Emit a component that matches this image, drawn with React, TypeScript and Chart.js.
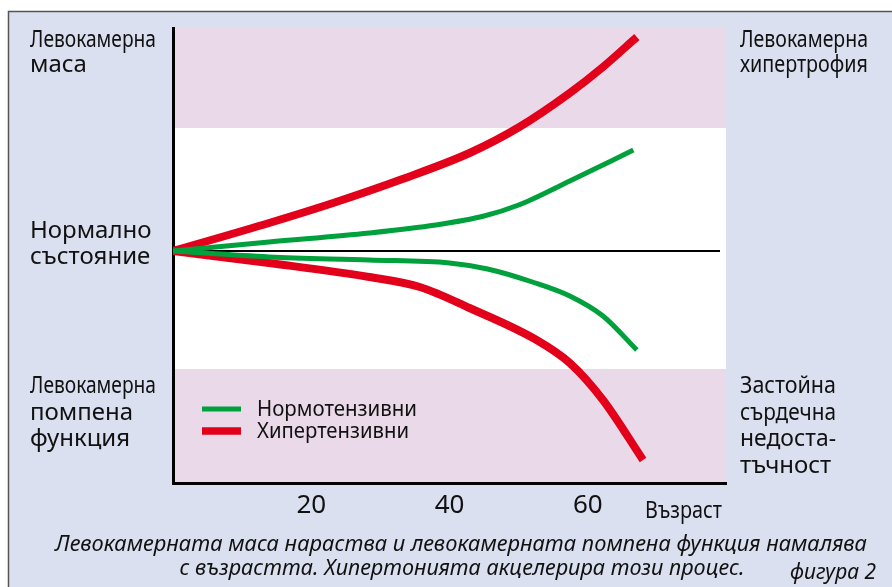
import React, { useEffect, useRef } from 'react';
import { Chart, registerables } from 'chart.js';

Chart.register(...registerables);

// ---- data (age on x, relative change from normal state on y) ----
const normoUpperAge = [0, 13.9, 28.4, 38.0, 45.0, 50.0, 57.4, 66.6];
const normoUpperVal = [0, 0.9, 1.8, 2.6, 3.5, 4.6, 7.0, 10.1];
const normoLowerAge = [0, 13.9, 28.4, 40.0, 45.5, 52.0, 57.4, 62.2, 67.1];
const normoLowerVal = [0, -0.6, -0.9, -1.2, -1.8, -3.1, -4.5, -6.5, -9.9];
const hyperUpperAge = [0, 13.9, 23.6, 33.2, 42.9, 50.1, 57.4, 62.2, 67.1];
const hyperUpperVal = [0, 2.8, 4.9, 7.2, 9.8, 12.4, 15.8, 18.4, 21.4];
const hyperLowerAge = [0, 13.9, 28.4, 35.7, 42.9, 52.6, 57.4, 62.2, 68];
const hyperLowerVal = [0, -1.2, -2.6, -3.6, -5.7, -8.9, -11.2, -14.9, -20.9];

const AGE_TICKS = [20, 40, 60];
const AGE_MIN = 0;
const AGE_MAX = 80;
const VAL_MIN = -23.2;
const VAL_MAX = 22.3;
const UPPER_BAND = [12.3, 22.3];
const LOWER_BAND = [-23.2, -11.8];

const LEGEND_LABELS = ['Нормотензивни', 'Хипертензивни'];
const X_TITLE = 'Възраст';
const LEFT_TOP = ['Левокамерна', 'маса'];
const LEFT_MID = ['Нормално', 'състояние'];
const LEFT_BOTTOM = ['Левокамерна', 'помпена', 'функция'];
const RIGHT_TOP = ['Левокамерна', 'хипертрофия'];
const RIGHT_BOTTOM = ['Застойна', 'сърдечна', 'недоста-', 'тъчност'];
const CAPTION = [
  'Левокамерната маса нараства и левокамерната помпена функция намалява',
  'с възрастта. Хипертонията акцелерира този процес.',
];
const FIGURE_LABEL = 'фигура 2';

const GREEN = '#00a03c';
const RED = '#e2001a';
const PINK = '#ead9e8';
const PANEL = '#dbe0f1';
const FONT = '"Noto Sans", "Open Sans", sans-serif';

const toPts = (xs: number[], ys: number[]) => xs.map((x, i) => ({ x, y: ys[i] }));

const decorPlugin = {
  id: 'decor',
  beforeDraw(chart: any) {
    const { ctx, chartArea, scales } = chart;
    const W = chart.width;
    const H = chart.height;
    ctx.save();
    ctx.fillStyle = '#ffffff';
    ctx.fillRect(0, 0, W, H);
    ctx.fillStyle = PANEL;
    ctx.fillRect(8, 11, W - 8, H - 11);
    ctx.strokeStyle = '#555555';
    ctx.lineWidth = 1.5;
    ctx.beginPath();
    ctx.moveTo(8.5, H);
    ctx.lineTo(8.5, 11.5);
    ctx.lineTo(W, 11.5);
    ctx.stroke();
    // white plot area and pink bands
    const y = scales.y;
    ctx.fillStyle = '#ffffff';
    ctx.fillRect(chartArea.left, chartArea.top, chartArea.right - chartArea.left, chartArea.bottom - chartArea.top);
    ctx.fillStyle = PINK;
    const b1t = y.getPixelForValue(UPPER_BAND[1]);
    const b1b = y.getPixelForValue(UPPER_BAND[0]);
    ctx.fillRect(chartArea.left, b1t, chartArea.right - chartArea.left, b1b - b1t);
    const b2t = y.getPixelForValue(LOWER_BAND[1]);
    const b2b = y.getPixelForValue(LOWER_BAND[0]);
    ctx.fillRect(chartArea.left, b2t, chartArea.right - chartArea.left, b2b - b2t);

    // side labels
    ctx.fillStyle = '#111111';
    ctx.textBaseline = 'alphabetic';
    ctx.textAlign = 'left';
    ctx.font = `24px ${FONT}`;
    const lines = (arr: string[], x: number, y0: number, lh: number, mw: number) => {
      arr.forEach((s, i) => ctx.fillText(s, x, y0 + i * lh, mw));
    };
    lines(LEFT_TOP, 30, 47, 25, 126);
    lines(LEFT_MID, 30, 238, 26, 126);
    lines(LEFT_BOTTOM, 30, 393, 26.5, 126);
    lines(RIGHT_TOP, 740, 47, 25, 128);
    lines(RIGHT_BOTTOM, 740, 393, 26.7, 96);

    // x title
    ctx.font = `23px ${FONT}`;
    ctx.fillText(X_TITLE, 645, 518, 77);

    // caption
    ctx.font = `italic 22px ${FONT}`;
    ctx.textAlign = 'center';
    ctx.fillText(CAPTION[0], 461, 551, 812);
    ctx.fillText(CAPTION[1], 462, 575, 565);
    ctx.textAlign = 'left';
    ctx.fillText(FIGURE_LABEL, 790, 579, 86);
    ctx.restore();
  },
  beforeDatasetsDraw(chart: any) {
    const { ctx, chartArea, scales } = chart;
    const y0 = scales.y.getPixelForValue(0);
    ctx.save();
    ctx.strokeStyle = '#000000';
    ctx.lineWidth = 2;
    ctx.beginPath();
    ctx.moveTo(chartArea.left, y0);
    ctx.lineTo(chartArea.right - 6, y0);
    ctx.stroke();

    // legend
    const items = [
      { label: LEGEND_LABELS[0], color: GREEN, w: 5, y: 409 },
      { label: LEGEND_LABELS[1], color: RED, w: 7.5, y: 431 },
    ];
    ctx.font = `21px ${FONT}`;
    ctx.textBaseline = 'alphabetic';
    items.forEach((it, i) => {
      ctx.strokeStyle = it.color;
      ctx.lineWidth = it.w;
      ctx.beginPath();
      ctx.moveTo(202, it.y);
      ctx.lineTo(241, it.y);
      ctx.stroke();
      ctx.fillStyle = '#111111';
      ctx.fillText(it.label, 257, it.y + 7, i === 0 ? 160 : 152);
    });
    ctx.restore();
  },
};

export default function App() {
  const ref = useRef<HTMLCanvasElement>(null);
  useEffect(() => {
    if (!ref.current) return;
    const common = { fill: false, pointRadius: 0, cubicInterpolationMode: 'monotone' as const, borderCapStyle: 'butt' as const };
    const chart = new Chart(ref.current, {
      type: 'line',
      data: {
        datasets: [
          { ...common, label: LEGEND_LABELS[0], data: toPts(normoUpperAge, normoUpperVal), borderColor: GREEN, borderWidth: 5 },
          { ...common, label: LEGEND_LABELS[0], data: toPts(normoLowerAge, normoLowerVal), borderColor: GREEN, borderWidth: 5 },
          { ...common, label: LEGEND_LABELS[1], data: toPts(hyperUpperAge, hyperUpperVal), borderColor: RED, borderWidth: 8 },
          { ...common, label: LEGEND_LABELS[1], data: toPts(hyperLowerAge, hyperLowerVal), borderColor: RED, borderWidth: 8 },
        ],
      },
      options: {
        animation: false,
        responsive: false,
        devicePixelRatio: 1,
        layout: { padding: { left: 173, top: 28, right: 166, bottom: 0 } },
        plugins: { legend: { display: false }, tooltip: { enabled: false } },
        scales: {
          x: {
            type: 'linear',
            min: AGE_MIN,
            max: AGE_MAX,
            afterFit: (s: any) => { s.height = 104; },
            afterBuildTicks: (s: any) => { s.ticks = AGE_TICKS.map((v) => ({ value: v })); },
            grid: { display: false, drawTicks: false },
            border: { display: true, color: '#000000', width: 3 },
            ticks: { color: '#111111', font: { family: FONT, size: 26 }, padding: 7, maxRotation: 0 },
          },
          y: {
            type: 'linear',
            min: VAL_MIN,
            max: VAL_MAX,
            afterFit: (s: any) => { s.width = 0; },
            grid: { display: false, drawTicks: false },
            border: { display: true, color: '#000000', width: 3 },
            ticks: { display: false },
          },
        },
      },
      plugins: [decorPlugin],
    });
    return () => chart.destroy();
  }, []);
  return (
    <div style={{ position: 'fixed', left: 0, top: 0, width: 892, height: 587 }}>
      <canvas ref={ref} width={892} height={587} style={{ display: 'block' }} />
    </div>
  );
}
